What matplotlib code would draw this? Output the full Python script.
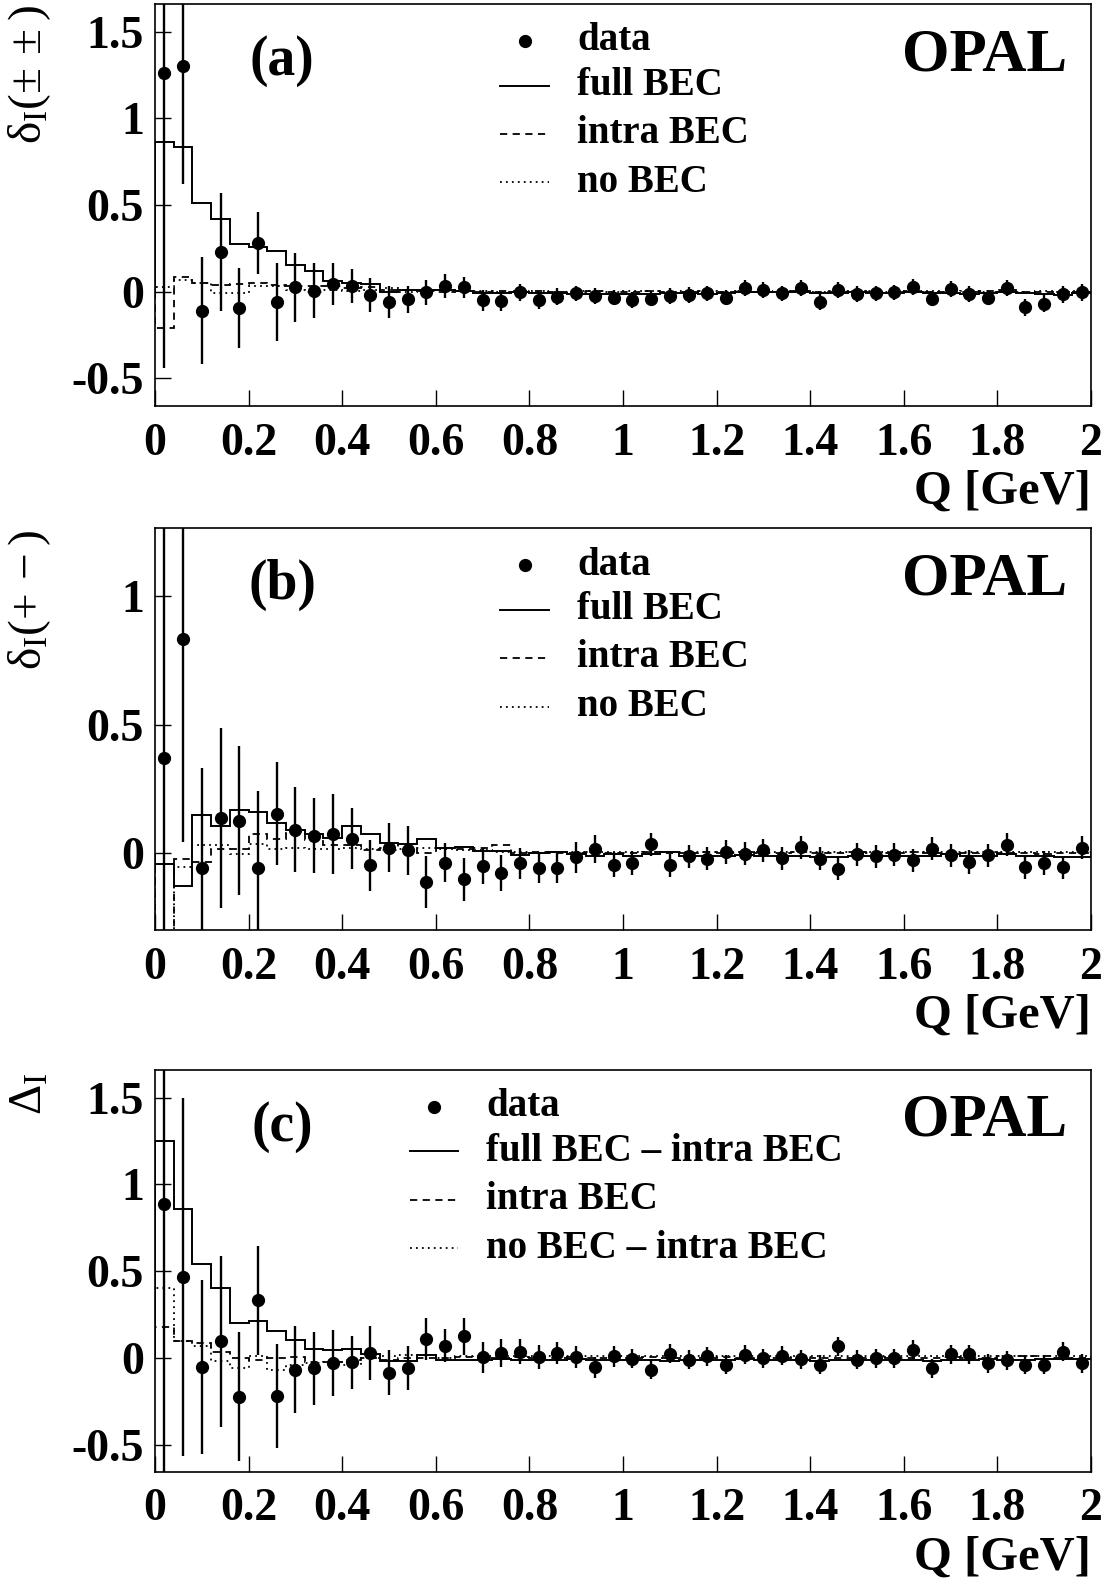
import numpy as np
import matplotlib
matplotlib.use("Agg")
import matplotlib.pyplot as plt
from matplotlib.ticker import FuncFormatter, MultipleLocator

plt.rcParams['font.family'] = ['Liberation Serif', 'DejaVu Serif']
plt.rcParams['font.weight'] = 'bold'
plt.rcParams['mathtext.fontset'] = 'custom'
plt.rcParams['mathtext.rm'] = 'Liberation Serif'
plt.rcParams['mathtext.it'] = 'Liberation Serif:italic'
plt.rcParams['axes.unicode_minus'] = False

# Q bins: 50 bins of 0.04 GeV
edges = np.arange(51) * 0.04
q = edges[:-1] + 0.02

# ---------------- panel (a): delta_I(++/--)
data_a = [1.26, 1.30, -0.11, 0.23, -0.096, 0.28, -0.06, 0.025, 0.006, 0.044,
          0.033, -0.02, -0.06, -0.045, -0.005, 0.033, 0.025, -0.05, -0.055, -0.005,
          -0.05, -0.03, -0.01, -0.025, -0.035, -0.05, -0.04, -0.025, -0.02, -0.01,
          -0.035, 0.02, 0.01, -0.01, 0.02, -0.06, 0.01, -0.015, -0.01, -0.005,
          0.025, -0.04, 0.015, -0.015, -0.035, 0.02, -0.09, -0.07, -0.015, -0.005]
err_a = [1.70, 0.68, 0.31, 0.34, 0.23, 0.18, 0.225, 0.20, 0.16, 0.12,
         0.10, 0.10, 0.09, 0.08, 0.07, 0.07, 0.06, 0.06, 0.055, 0.05,
         0.05, 0.05, 0.045, 0.045, 0.045, 0.045, 0.045, 0.045, 0.045, 0.045,
         0.045, 0.045, 0.045, 0.045, 0.045, 0.045, 0.045, 0.045, 0.045, 0.045,
         0.045, 0.045, 0.045, 0.045, 0.045, 0.045, 0.05, 0.05, 0.05, 0.05]
full_a = [0.865, 0.837, 0.513, 0.417, 0.275, 0.26, 0.237, 0.154, 0.121, 0.063,
          0.048, 0.044, -0.005, 0.01, 0.008, 0.01, 0.005, -0.01, -0.01, -0.005,
          -0.01, -0.01, -0.012, -0.015, -0.015, -0.015, -0.015, -0.01, -0.01, -0.015,
          -0.01, -0.005, -0.005, 0.0, -0.005, -0.01, -0.01, -0.005, -0.01, -0.01,
          -0.005, -0.01, -0.01, -0.015, -0.01, -0.005, -0.01, -0.015, -0.02, -0.01]
intra_a = [-0.21, 0.083, 0.052, 0.04, 0.045, 0.05, 0.04, 0.035, 0.03, 0.03,
           0.02, 0.025, 0.01, 0.01, 0.005, 0.0, 0.005, 0.0, 0.005, 0.0,
           0.005, 0.0, 0.0, 0.005, 0.0, 0.0, 0.005, 0.0, 0.0, 0.005,
           0.0, 0.005, 0.0, 0.0, 0.005, 0.0, 0.0, 0.005, 0.0, 0.0,
           0.005, 0.0, 0.0, 0.0, 0.005, 0.01, 0.0, -0.005, 0.0, 0.0]
nobec_a = [0.025, 0.067, 0.05, -0.01, -0.01, 0.03, 0.03, 0.01, 0.0, 0.01,
           0.005, 0.01, 0.02, 0.0, 0.01, 0.01, 0.005, 0.005, 0.0, 0.005,
           0.005, 0.0, 0.005, 0.005, 0.0, 0.005, 0.005, 0.0, 0.005, 0.005,
           0.0, 0.005, 0.0, 0.005, 0.005, 0.0, 0.005, 0.0, 0.005, 0.0,
           0.005, 0.005, 0.0, 0.005, 0.0, 0.005, 0.0, 0.005, 0.0, 0.005]

# ---------------- panel (b): delta_I(+-)
data_b = [0.371, 0.832, -0.058, 0.136, 0.125, -0.057, 0.153, 0.091, 0.068, 0.073,
          0.056, -0.048, 0.021, 0.01, -0.113, -0.038, -0.103, -0.052, -0.078, -0.04,
          -0.058, -0.057, -0.016, 0.017, -0.045, -0.039, 0.034, -0.048, -0.013, -0.022,
          0.004, -0.003, 0.01, -0.02, 0.023, -0.022, -0.061, -0.005, -0.013, -0.006,
          -0.029, 0.017, -0.009, -0.035, -0.009, 0.032, -0.055, -0.039, -0.055, 0.021]
err_b = [1.2, 0.79, 0.39, 0.35, 0.29, 0.30, 0.20, 0.165, 0.145, 0.155,
         0.12, 0.10, 0.095, 0.095, 0.10, 0.075, 0.085, 0.07, 0.07, 0.06,
         0.06, 0.06, 0.06, 0.055, 0.05, 0.045, 0.045, 0.045, 0.045, 0.045,
         0.045, 0.045, 0.045, 0.045, 0.045, 0.045, 0.045, 0.045, 0.045, 0.045,
         0.045, 0.045, 0.045, 0.045, 0.045, 0.045, 0.045, 0.045, 0.045, 0.045]
full_b = [-0.042, -0.129, 0.147, 0.104, 0.166, 0.16, 0.117, 0.088, 0.075, 0.058,
          0.104, 0.073, 0.039, 0.034, 0.056, 0.019, 0.023, 0.008, 0.008, -0.006,
          0.0, 0.003, -0.002, -0.01, -0.005, -0.01, -0.005, 0.004, -0.012, -0.012,
          -0.01, -0.008, -0.01, -0.01, -0.01, -0.015, -0.015, -0.01, -0.012, -0.01,
          -0.01, -0.01, -0.005, -0.01, -0.01, -0.005, -0.01, -0.01, -0.015, -0.015]
intra_b = [-0.40, -0.022, -0.035, 0.017, 0.017, 0.073, 0.056, 0.078, 0.05, 0.03,
           0.03, 0.01, 0.02, 0.035, 0.0, 0.02, 0.015, 0.02, 0.03, 0.0,
           0.005, 0.0, 0.0, 0.005, 0.0, 0.0, 0.005, 0.0, 0.0, 0.005,
           0.0, 0.005, 0.0, 0.0, 0.005, 0.0, 0.0, 0.005, 0.0, 0.0,
           0.005, 0.0, 0.0, 0.0, 0.005, 0.0, 0.0, -0.005, 0.0, 0.0]
nobec_b = [-0.40, -0.055, 0.03, 0.03, -0.003, 0.036, 0.017, 0.02, 0.015, 0.015,
           0.02, 0.015, 0.01, 0.015, 0.02, 0.015, 0.01, 0.01, 0.005, 0.005,
           0.0, 0.005, 0.005, 0.005, 0.005, 0.005, 0.005, 0.005, 0.005, 0.005,
           0.005, 0.005, 0.005, 0.005, 0.005, 0.005, 0.005, 0.005, 0.005, 0.005,
           0.005, 0.005, 0.005, 0.005, 0.005, 0.005, 0.005, 0.005, 0.005, 0.005]

# ---------------- panel (c): Delta_I
data_c = [0.888, 0.465, -0.052, 0.096, -0.221, 0.333, -0.217, -0.067, -0.058, -0.029,
          -0.025, 0.029, -0.083, -0.058, 0.112, 0.071, 0.125, 0.004, 0.029, 0.038,
          0.006, 0.029, 0.006, -0.052, 0.01, -0.004, -0.067, 0.025, -0.01, 0.01,
          -0.038, 0.019, 0.0, 0.013, -0.006, -0.038, 0.067, -0.01, 0.0, 0.0,
          0.048, -0.058, 0.023, 0.023, -0.029, -0.013, -0.038, -0.038, 0.038, -0.029]
err_c = [2.0, 1.03, 0.50, 0.49, 0.37, 0.315, 0.30, 0.25, 0.21, 0.19,
         0.155, 0.155, 0.13, 0.125, 0.12, 0.095, 0.105, 0.09, 0.08, 0.07,
         0.07, 0.065, 0.065, 0.06, 0.06, 0.055, 0.055, 0.055, 0.055, 0.055,
         0.055, 0.055, 0.055, 0.055, 0.055, 0.055, 0.055, 0.055, 0.055, 0.055,
         0.055, 0.055, 0.055, 0.055, 0.055, 0.055, 0.055, 0.055, 0.055, 0.055]
full_c = [1.25, 0.856, 0.542, 0.404, 0.202, 0.212, 0.154, 0.106, 0.052, 0.044,
          0.052, 0.025, -0.019, -0.019, 0.02, -0.01, -0.01, -0.01, -0.005, -0.01,
          -0.01, -0.01, -0.005, -0.01, -0.01, -0.01, -0.01, -0.015, -0.01, -0.01,
          -0.01, -0.005, -0.01, -0.01, -0.01, -0.015, -0.01, -0.01, -0.01, -0.01,
          -0.01, -0.015, -0.01, -0.01, -0.005, -0.01, -0.01, -0.005, -0.005, -0.005]
intra_c = [0.177, 0.10, 0.087, 0.033, 0.0, -0.01, 0.0, 0.005, -0.02, -0.02,
           -0.01, 0.0, -0.01, 0.0, 0.0, 0.0, 0.005, 0.0, 0.0, 0.005,
           0.0, 0.0, 0.005, 0.0, 0.0, 0.0, 0.005, 0.0, 0.0, 0.0,
           0.005, 0.0, 0.0, 0.0, 0.005, 0.0, 0.0, 0.0, 0.005, 0.0,
           0.0, 0.0, 0.005, 0.0, 0.0, 0.01, 0.015, 0.01, 0.0, 0.0]
nobec_c = [0.404, 0.096, 0.067, -0.015, -0.058, 0.01, -0.067, -0.04, -0.03, -0.02,
           -0.04, 0.0, 0.01, 0.02, 0.02, 0.0, 0.01, 0.01, 0.01, 0.01,
           0.01, 0.01, 0.01, 0.01, 0.01, 0.01, 0.01, 0.01, 0.01, 0.01,
           0.01, 0.01, 0.01, 0.01, 0.01, 0.01, 0.01, 0.01, 0.01, 0.01,
           0.01, 0.01, 0.01, 0.01, 0.01, 0.01, 0.01, 0.01, 0.01, 0.01]

panels = [
    dict(data=data_a, err=err_a, full=full_a, intra=intra_a, nobec=nobec_a,
         ylim=(-0.66, 1.66), ylabel=r'$\mathregular{\delta_I(\pm\,\pm)}$', tag='(a)',
         labels=['data', 'full BEC', 'intra BEC', 'no BEC'], legx=0.395),
    dict(data=data_b, err=err_b, full=full_b, intra=intra_b, nobec=nobec_b,
         ylim=(-0.30, 1.265), ylabel=r'$\mathregular{\delta_I(+\,-)}$', tag='(b)',
         labels=['data', 'full BEC', 'intra BEC', 'no BEC'], legx=0.395),
    dict(data=data_c, err=err_c, full=full_c, intra=intra_c, nobec=nobec_c,
         ylim=(-0.654, 1.66), ylabel=r'$\mathregular{\Delta_I}$', tag='(c)',
         labels=['data', 'full BEC \u2013 intra BEC', 'intra BEC',
                 'no BEC \u2013 intra BEC'], legx=0.298),
]

dash_style = (0, (4, 3))
dot_style = (0, (1, 2.3))

fig = plt.figure(figsize=(11.12, 15.82), dpi=100)
bottoms = [0.7434, 0.4121, 0.0697]
ylab_top = [0.997, 0.665, 0.322]

for p, b, yt in zip(panels, bottoms, ylab_top):
    ax = fig.add_axes([0.1394, b, 0.8417, 0.2541])
    ax.stairs(p['full'], edges, color='k', lw=1.4)
    ax.stairs(p['intra'], edges, color='k', lw=1.3, linestyle=dash_style)
    ax.stairs(p['nobec'], edges, color='k', lw=1.3, linestyle=dot_style)
    ax.errorbar(q, p['data'], yerr=p['err'], fmt='o', color='k', ms=8.5,
                elinewidth=1.7, capsize=0)
    ax.set_xlim(0, 2)
    ax.set_ylim(*p['ylim'])
    ax.xaxis.set_major_locator(MultipleLocator(0.2))
    ax.yaxis.set_major_locator(MultipleLocator(0.5))
    fmt = FuncFormatter(lambda v, pos: '%g' % round(v, 3))
    ax.xaxis.set_major_formatter(fmt)
    ax.yaxis.set_major_formatter(fmt)
    ax.tick_params(direction='in', length=11.5, width=1.0, top=False, right=False,
                   labelsize=33)
    ax.tick_params(axis='x', pad=12)
    ax.tick_params(axis='y', pad=8)
    for s in ax.spines.values():
        s.set_linewidth(1.2)

    ax.text(1.0, -0.213, 'Q [GeV]', transform=ax.transAxes, ha='right', va='center',
            fontsize=35, fontweight='bold')
    ax.text(0.136, 0.858, p['tag'], transform=ax.transAxes, ha='center', va='center',
            fontsize=40, fontweight='bold')
    ax.text(0.974, 0.873, 'OPAL', transform=ax.transAxes, ha='right', va='center',
            fontsize=44, fontweight='bold')
    fig.text(0.027, yt, p['ylabel'], rotation=90, ha='center', va='top',
             fontsize=34, fontweight='normal')

    # legend
    rows = [0.908, 0.797, 0.677, 0.556]
    lx = p['legx']
    ax.plot([lx], [rows[0]], 'o', color='k', ms=8.5, transform=ax.transAxes)
    ax.plot([lx - 0.026, lx + 0.026], [rows[1]] * 2, color='k', lw=1.4,
            transform=ax.transAxes)
    ax.plot([lx - 0.026, lx + 0.026], [rows[2]] * 2, color='k', lw=1.3,
            linestyle=dash_style, transform=ax.transAxes)
    ax.plot([lx - 0.026, lx + 0.026], [rows[3]] * 2, color='k', lw=1.3,
            linestyle=dot_style, transform=ax.transAxes)
    for r, lab in zip(rows, p['labels']):
        ax.text(lx + 0.056, r, lab, transform=ax.transAxes, ha='left', va='center',
                fontsize=28, fontweight='bold')

fig.savefig('out.png', dpi=100)
